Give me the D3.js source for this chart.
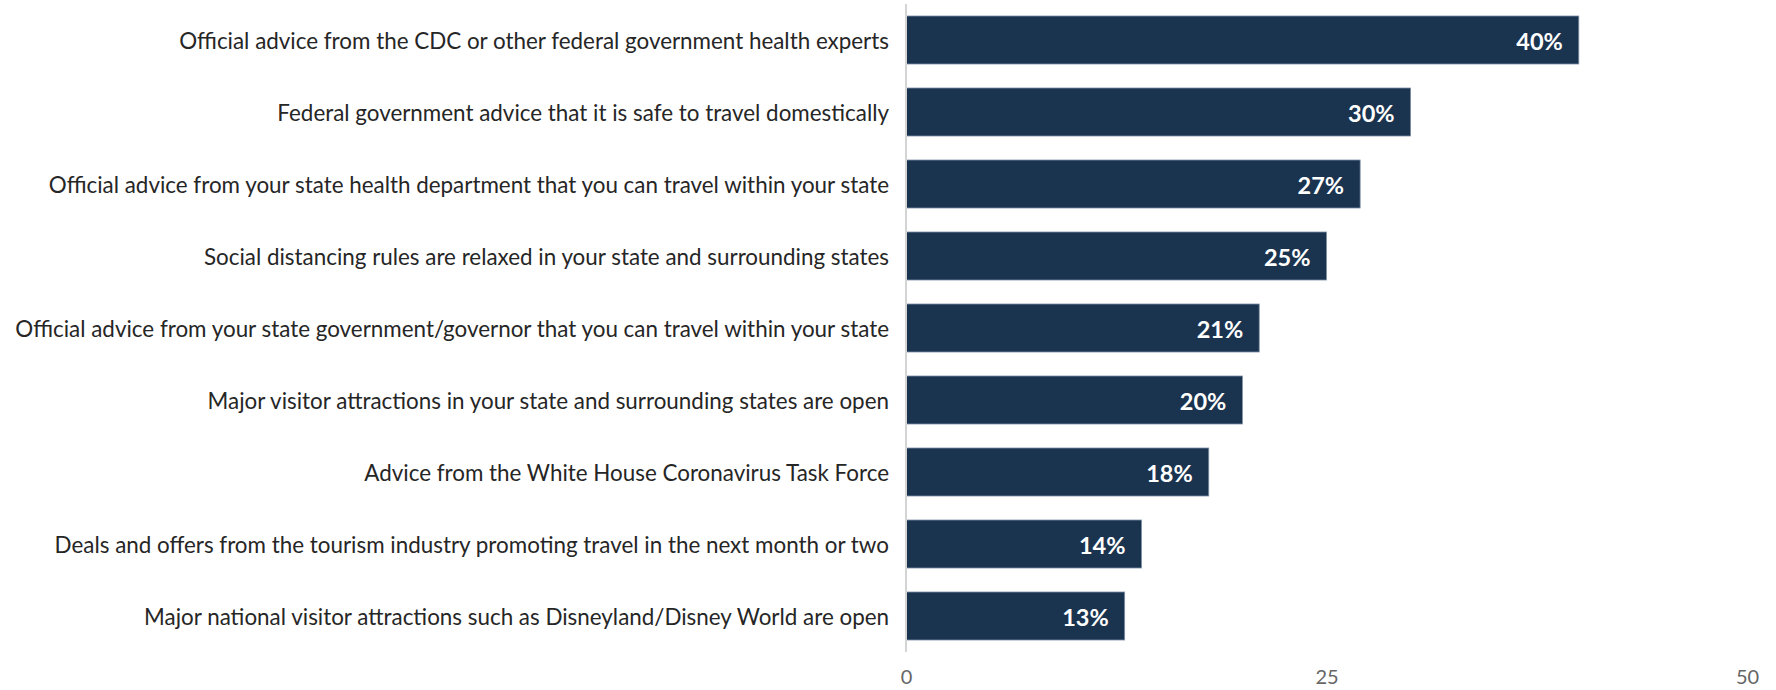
<!DOCTYPE html>
<html>
<head>
<meta charset="utf-8">
<script src="https://cdn.jsdelivr.net/npm/d3@7"></script>
<style>
  html, body { margin: 0; padding: 0; background: #ffffff; }
  svg { display: block; }
</style>
</head>
<body>
<svg id="chart" width="1776" height="690"></svg>
<script>
// Share of respondents saying each factor would make them more comfortable travelling
const categories = [
  "Official advice from the CDC or other federal government health experts",
  "Federal government advice that it is safe to travel domestically",
  "Official advice from your state health department that you can travel within your state",
  "Social distancing rules are relaxed in your state and surrounding states",
  "Official advice from your state government/governor that you can travel within your state",
  "Major visitor attractions in your state and surrounding states are open",
  "Advice from the White House Coronavirus Task Force",
  "Deals and offers from the tourism industry promoting travel in the next month or two",
  "Major national visitor attractions such as Disneyland/Disney World are open"
];
const values = [40, 30, 27, 25, 21, 20, 18, 14, 13];
const xTicks = [0, 25, 50];

const svg = d3.select("#chart");

const x = d3.scaleLinear().domain([0, 50]).range([906, 1747]);
const y = d3.scaleBand()
  .domain(categories)
  .range([4, 652])
  .paddingInner(1 / 3)
  .paddingOuter(1 / 6);

const rows = categories.map((c, i) => ({ label: c, value: values[i] }));

// Bars
svg.append("g")
  .selectAll("rect")
  .data(rows)
  .join("rect")
  .attr("x", x(0))
  .attr("y", d => y(d.label))
  .attr("width", d => x(d.value) - x(0))
  .attr("height", y.bandwidth())
  .attr("fill", "#1a334f")
  .attr("stroke", "#7f90a6")
  .attr("stroke-width", 0.8);

// Vertical baseline at zero
svg.append("line")
  .attr("x1", x(0)).attr("x2", x(0))
  .attr("y1", y.range()[0]).attr("y2", y.range()[1])
  .attr("stroke", "#d4d4d4")
  .attr("stroke-width", 2);

// Category labels
svg.append("g")
  .selectAll("text")
  .data(rows)
  .join("text")
  .attr("x", 889)
  .attr("y", d => y(d.label) + y.bandwidth() / 2)
  .attr("text-anchor", "end")
  .attr("dominant-baseline", "central")
  .attr("font-family", "Lato, 'Open Sans', sans-serif")
  .attr("font-size", 22.4)
  .attr("fill", "#262626")
  .text(d => d.label);

// Value labels inside bar ends
svg.append("g")
  .selectAll("text")
  .data(rows)
  .join("text")
  .attr("x", d => x(d.value) - 16)
  .attr("y", d => y(d.label) + y.bandwidth() / 2 + 1)
  .attr("text-anchor", "end")
  .attr("dominant-baseline", "central")
  .attr("font-family", "Lato, 'Open Sans', sans-serif")
  .attr("font-weight", "bold")
  .attr("font-size", 23.5)
  .attr("fill", "#ffffff")
  .text(d => d.value + "%");

// Bottom axis (labels only)
const axis = d3.axisBottom(x).tickValues(xTicks).tickSize(0).tickPadding(0).tickFormat(d3.format("d"));
const gx = svg.append("g").attr("transform", "translate(0,670)").call(axis);
gx.select(".domain").remove();
gx.selectAll("text")
  .attr("font-family", "Lato, 'Open Sans', sans-serif")
  .attr("font-size", 20)
  .attr("fill", "#666666");
</script>
</body>
</html>
